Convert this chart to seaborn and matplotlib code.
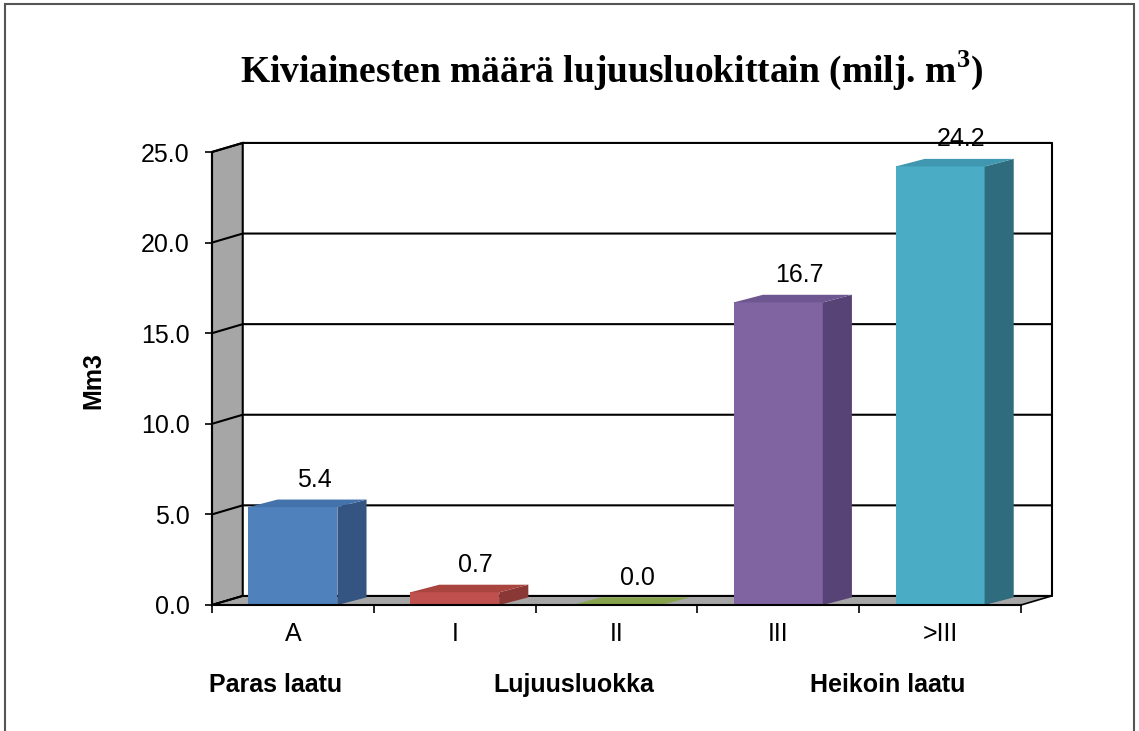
import matplotlib
matplotlib.use("Agg")
import matplotlib.pyplot as plt
from matplotlib.patches import Polygon, Rectangle
import seaborn as sns
import numpy as np

categories = ["A", "I", "II", "III", ">III"]
values = [5.4, 0.7, 0.0, 16.7, 24.2]
value_labels = ["5.4", "0.7", "0.0", "16.7", "24.2"]
front_colors = ["#4F81BD", "#C0504D", "#9BBB59", "#8064A2", "#4BACC6"]
side_colors = ["#345581", "#8A3835", "#6E8640", "#574375", "#2F6C7D"]
top_colors = ["#4472AA", "#A9443F", "#86A34C", "#6E5690", "#3F98B0"]
yticks = [0, 5, 10, 15, 20, 25]
title = r"Kiviainesten määrä lujuusluokittain (milj. m$^{\mathbf{3}}$)"
ylabel = "Mm3"
bottom_labels = ["Paras laatu", "Lujuusluokka", "Heikoin laatu"]

sns.set_theme(style="white")
plt.rcParams["font.family"] = ["Liberation Sans", "DejaVu Sans"]
plt.rcParams["text.color"] = "black"
plt.rcParams["axes.labelcolor"] = "black"
plt.rcParams["xtick.color"] = "black"
plt.rcParams["ytick.color"] = "black"
plt.rcParams["mathtext.fontset"] = "custom"
plt.rcParams["mathtext.rm"] = "Liberation Serif"
plt.rcParams["mathtext.bf"] = "Liberation Serif:bold"

W, H = 1139, 731
fig = plt.figure(figsize=(W / 100, H / 100), dpi=100)
ax = fig.add_axes([212 / W, 1 - 605 / H, (1021 - 212) / W, (605 - 152) / H])

sns.barplot(x=categories, y=values, hue=categories, palette=front_colors,
            width=0.55, saturation=1, legend=False, ax=ax, linewidth=0, zorder=3)

ax.set_xlim(-0.5, 4.5)
ax.set_ylim(0, 25)

# depth offsets (data units)
wdx, wdy = 0.19, 0.5     # wall / floor depth
bdx, bdy = 0.18, 0.42    # bar depth
x0, x1 = -0.5, 4.5

# left wall
ax.add_patch(Polygon([(x0, 0), (x0, 25), (x0 + wdx, 25 + wdy), (x0 + wdx, wdy)],
                     closed=True, facecolor="#A6A6A6", edgecolor="black", lw=1.5,
                     zorder=1, clip_on=False))
# floor
ax.add_patch(Polygon([(x0, 0), (x1, 0), (x1 + wdx, wdy), (x0 + wdx, wdy)],
                     closed=True, facecolor="#A6A6A6", edgecolor="black", lw=1.2,
                     zorder=1, clip_on=False))
# gridlines on the back wall + slanted on the left wall
for v in yticks:
    ax.plot([x0, x0 + wdx, x1 + wdx], [v, v + wdy, v + wdy], color="black",
            lw=1.5, zorder=1.5, clip_on=False, solid_joinstyle="miter")
# right edge of back wall
ax.plot([x1 + wdx, x1 + wdx], [wdy, 25 + wdy], color="black", lw=1.5,
        zorder=1.5, clip_on=False)

# 3D faces for bars
bars = [pp for pp in ax.patches if isinstance(pp, Rectangle) and pp.get_width() < 1]
for i, p in enumerate(bars):
    bx, bw, bh = p.get_x(), p.get_width(), p.get_height()
    ax.add_patch(Polygon([(bx + bw, 0), (bx + bw, bh), (bx + bw + bdx, bh + bdy), (bx + bw + bdx, bdy)],
                         closed=True, facecolor=side_colors[i], edgecolor="none",
                         zorder=3, clip_on=False))
    ax.add_patch(Polygon([(bx, bh), (bx + bw, bh), (bx + bw + bdx, bh + bdy), (bx + bdx, bh + bdy)],
                         closed=True, facecolor=top_colors[i], edgecolor="none",
                         zorder=3.1, clip_on=False))
    ax.text(bx + bw / 2 + 0.13, bh + 1.5, value_labels[i], ha="center", va="center",
            fontsize=18, color="black", zorder=5, clip_on=False)

# spines & ticks
for s in ["top", "right"]:
    ax.spines[s].set_visible(False)
for s in ["left", "bottom"]:
    ax.spines[s].set_color("black")
    ax.spines[s].set_linewidth(1.5)
    ax.spines[s].set_zorder(4)

ax.set_yticks(yticks)
ax.set_yticklabels([f"{v:.1f}" for v in yticks])
ax.tick_params(axis="y", direction="out", length=5, width=1.2, color="black",
               pad=11, labelsize=18, left=True, labelcolor="black")
ax.set_xticks(range(len(categories)))
ax.set_xticklabels(categories)
ax.set_xticks(np.arange(-0.5, 5, 1), minor=True)
ax.tick_params(axis="x", which="major", length=0, pad=12, labelsize=18, labelcolor="black")
ax.tick_params(axis="x", which="minor", direction="out", length=6, width=1.2,
               color="black", bottom=True)
ax.set_xlabel("")
ax.set_ylabel("")
ax.grid(False)
ax.set_facecolor("none")

# texts
fig.text(612 / W, 1 - 70 / H, title, ha="center", va="center", fontsize=27,
         fontweight="bold", color="black", family=["Liberation Serif", "DejaVu Serif"])
fig.text(93 / W, 1 - 381 / H, ylabel, ha="center", va="center", rotation=90,
         fontsize=18, fontweight="bold", color="black")
for xpos, txt in zip([276, 574, 888], bottom_labels):
    fig.text(xpos / W, 1 - 685 / H, txt, ha="center", va="center", fontsize=18,
             fontweight="bold", color="black")

# outer frame
fig.add_artist(Rectangle((5 / W, -0.05), (1134 - 5) / W, 1.05 - 4 / H,
                         transform=fig.transFigure, fill=False,
                         edgecolor="#555555", lw=1.5, clip_on=False))

fig.savefig("out.png", dpi=100, facecolor="white")
